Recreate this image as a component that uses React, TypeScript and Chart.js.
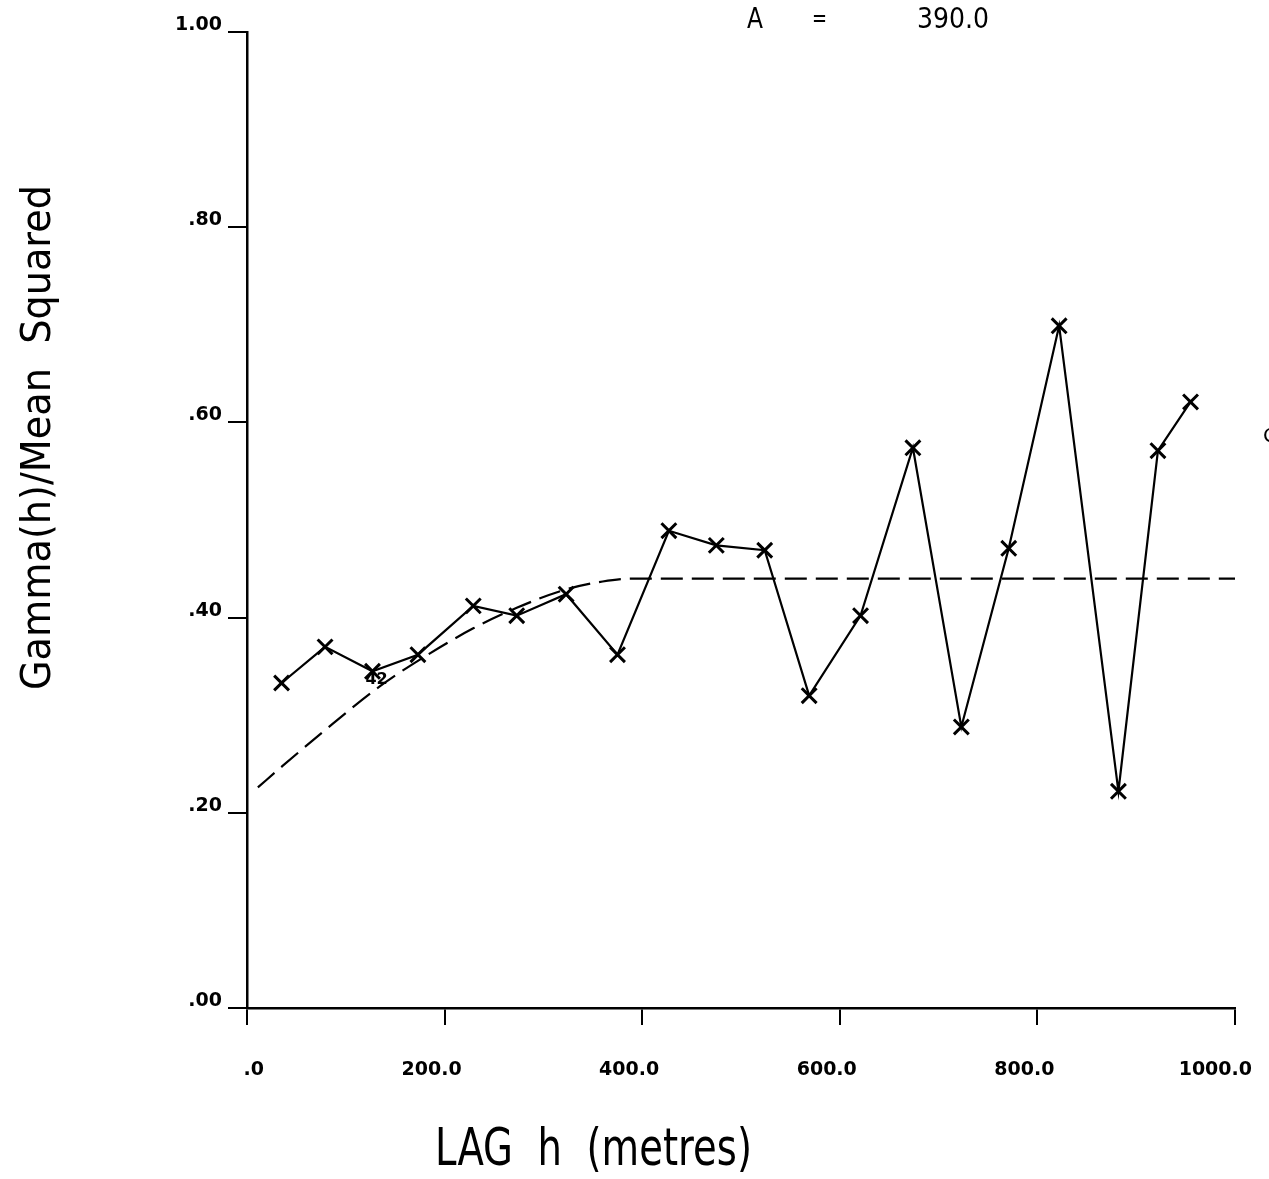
import React, { useEffect, useRef } from "react";
import { Chart, registerables } from "chart.js";

Chart.register(...registerables);

// Experimental semivariogram (lag in metres, gamma/mean^2)
const lagValues = [35, 79, 127, 173, 229, 273, 323, 375, 427, 475, 524, 569, 621, 674, 723, 771, 822, 882, 922, 955];
const gammaValues = [0.333, 0.370, 0.345, 0.362, 0.412, 0.402, 0.424, 0.362, 0.489, 0.474, 0.469, 0.320, 0.402, 0.574, 0.288, 0.471, 0.699, 0.222, 0.571, 0.621];

// Fitted model curve (dashed)
const modelLag = [11, 36, 77, 135, 175, 229, 273, 320, 360, 390, 1000];
const modelGamma = [0.226, 0.248, 0.283, 0.330, 0.357, 0.389, 0.410, 0.428, 0.437, 0.440, 0.440];

// Axis tick values
const xTicks = [0, 200, 400, 600, 800, 1000];
const yTicks = [0, 0.2, 0.4, 0.6, 0.8, 1.0];

const xTitle = "LAG  h  (metres)";
const yTitle = "Gamma(h)/Mean  Squared";
const rangeLabel = "A";
const rangeValue = "390.0";
const pairCountLabel = "42";
const pairCountIndex = 2;

const FONT = "'DejaVu Sans', sans-serif";

function fitText(ctx: CanvasRenderingContext2D, text: string, x: number, y: number, width: number, size: number, rotation: number) {
  ctx.save();
  ctx.font = `${size}px ${FONT}`;
  const w = ctx.measureText(text).width;
  ctx.translate(x, y);
  ctx.rotate(rotation);
  ctx.scale(width / w, 1);
  ctx.textAlign = "left";
  ctx.textBaseline = "alphabetic";
  ctx.fillStyle = "#000";
  ctx.fillText(text, 0, 0);
  ctx.restore();
}

const textPlugin = {
  id: "plotTexts",
  afterDraw(chart: any) {
    const ctx = chart.ctx as CanvasRenderingContext2D;
    // axis titles
    fitText(ctx, yTitle, 50, 690, 505, 41, -Math.PI / 2);
    fitText(ctx, xTitle, 435, 1165, 317, 52, 0);
    // range annotation
    fitText(ctx, rangeLabel, 747, 28, 16, 28, 0);
    fitText(ctx, "=", 812, 26, 15, 24, 0);
    fitText(ctx, rangeValue, 917, 28, 72, 28, 0);
    // pair count near third point
    const xs = chart.scales.x;
    const ys = chart.scales.y;
    const px = xs.getPixelForValue(lagValues[pairCountIndex]);
    const py = ys.getPixelForValue(gammaValues[pairCountIndex]);
    ctx.save();
    ctx.fillStyle = "#000";
    ctx.font = `bold 16px ${FONT}`;
    ctx.textAlign = "left";
    ctx.fillText(pairCountLabel, px - 7, py + 13);
    // clipped character at right edge
    ctx.font = `20px ${FONT}`;
    ctx.fillText("C", 1263, 442);
    ctx.restore();
  },
};

export default function App() {
  const ref = useRef<HTMLCanvasElement | null>(null);

  useEffect(() => {
    if (!ref.current) return;
    const tickFont = { family: FONT, size: 19, weight: "bold" as const };
    const chart = new Chart(ref.current, {
      type: "line",
      data: {
        datasets: [
          {
            label: "experimental",
            data: lagValues.map((x, i) => ({ x, y: gammaValues[i] })),
            borderColor: "#000",
            borderWidth: 2.2,
            pointStyle: "crossRot",
            pointRadius: 10.5,
            pointBorderWidth: 3,
            pointBorderColor: "#000",
            pointBackgroundColor: "#000",
            fill: false,
            tension: 0,
          },
          {
            label: "model",
            data: modelLag.map((x, i) => ({ x, y: modelGamma[i] })),
            borderColor: "#000",
            borderWidth: 2.2,
            borderDash: [22, 9],
            pointRadius: 0,
            fill: false,
            cubicInterpolationMode: "monotone",
          },
        ],
      },
      options: {
        responsive: false,
        animation: false,
        events: [],
        layout: { padding: { top: 32, right: 32, left: 0, bottom: 0 } },
        plugins: {
          legend: { display: false },
          tooltip: { enabled: false },
          title: { display: false },
        },
        scales: {
          x: {
            type: "linear",
            min: 0,
            max: 1000,
            afterFit: (s: any) => { s.height = 171; },
            afterBuildTicks: (s: any) => { s.ticks = xTicks.map((v) => ({ value: v })); },
            ticks: {
              color: "#000",
              font: tickFont,
              padding: 34,
              align: "end",
              labelOffset: 17,
              maxRotation: 0,
              autoSkip: false,
              callback: (v: any) => (Number(v) === 0 ? ".0" : Number(v).toFixed(1)),
            },
            grid: {
              drawOnChartArea: false,
              drawTicks: true,
              tickLength: 17,
              color: "#000",
              lineWidth: 2,
            },
            border: { display: true, color: "#000", width: 2.5 },
          },
          y: {
            type: "linear",
            min: 0,
            max: 1,
            afterFit: (s: any) => { s.width = 247; },
            afterBuildTicks: (s: any) => { s.ticks = yTicks.map((v) => ({ value: v })); },
            ticks: {
              color: "#000",
              font: tickFont,
              padding: 6,
              labelOffset: -7,
              autoSkip: false,
              callback: (v: any) => {
                const n = Math.round(Number(v) * 100);
                return n === 100 ? "1.00" : "." + String(n).padStart(2, "0");
              },
            },
            grid: {
              drawOnChartArea: false,
              drawTicks: true,
              tickLength: 19,
              color: "#000",
              lineWidth: 2,
            },
            border: { display: true, color: "#000", width: 2.5 },
          },
        },
      },
      plugins: [textPlugin],
    });
    return () => chart.destroy();
  }, []);

  return (
    <div style={{ position: "absolute", left: 0, top: 0, width: 1269, height: 1179, background: "#fff" }}>
      <canvas ref={ref} width={1269} height={1179} style={{ width: 1269, height: 1179, display: "block" }} />
    </div>
  );
}
